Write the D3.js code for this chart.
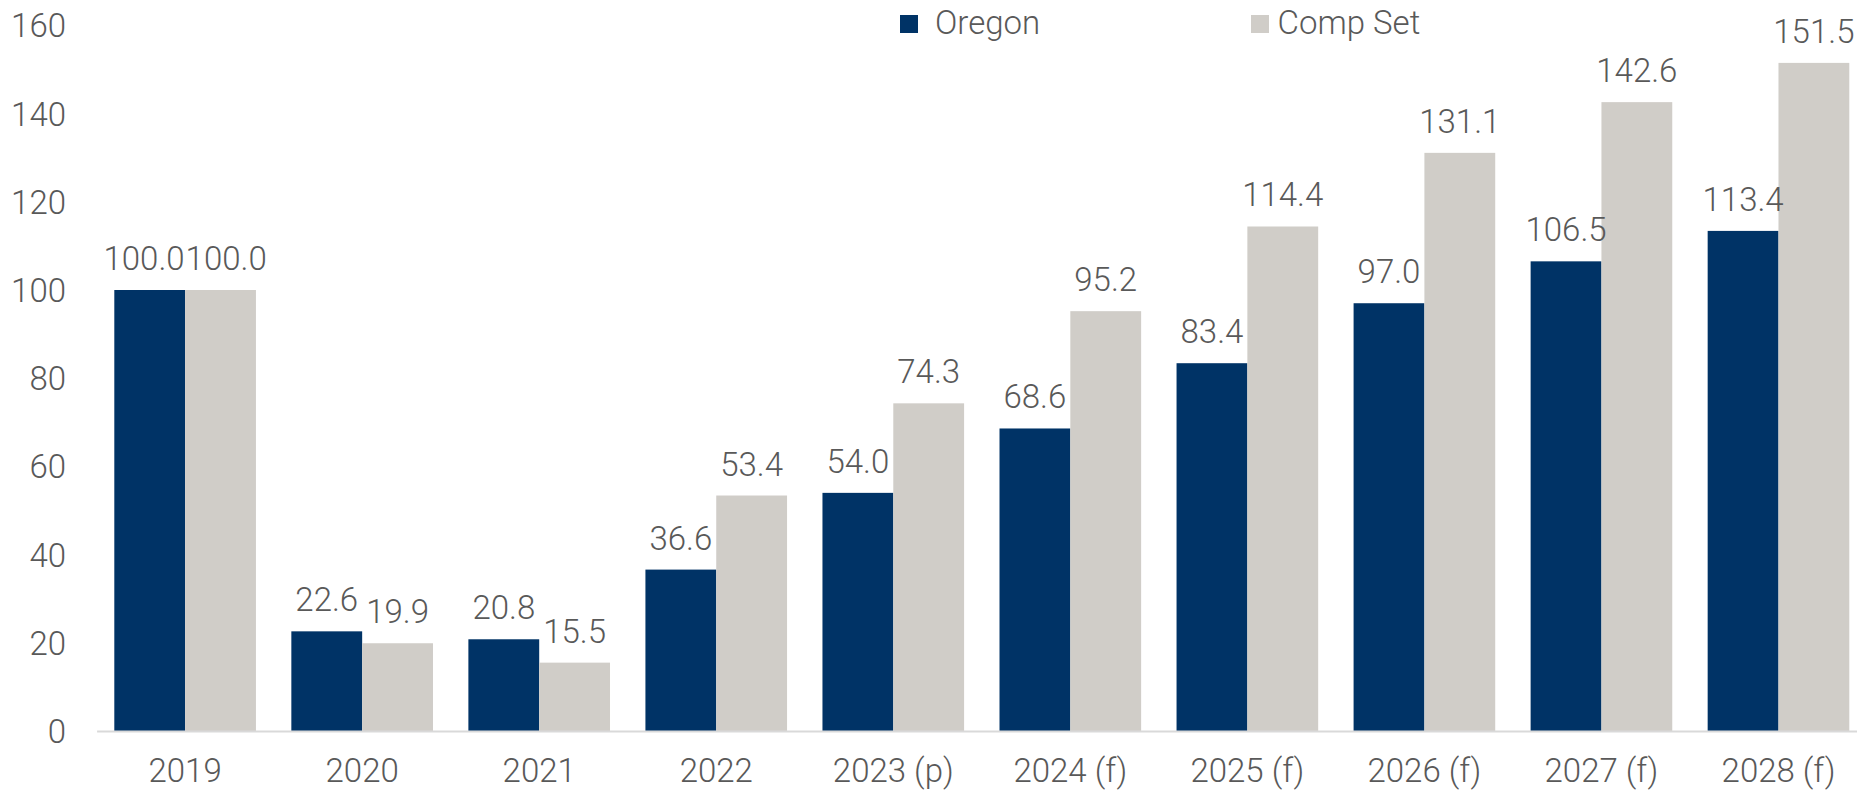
<!DOCTYPE html>
<html>
<head>
<meta charset="utf-8">
<script src="https://cdn.jsdelivr.net/npm/d3@7"></script>
<style>
  html, body { margin: 0; padding: 0; background: #ffffff; }
  svg { display: block; }
  text { font-family: Roboto, "Open Sans", sans-serif; font-weight: 300; fill: #595959; }
</style>
</head>
<body>
<svg id="chart" width="1857" height="791"></svg>
<script>
// Index values by year (2019 = 100)
const categories = ["2019", "2020", "2021", "2022", "2023 (p)", "2024 (f)", "2025 (f)", "2026 (f)", "2027 (f)", "2028 (f)"];
const seriesNames = ["Oregon", "Comp Set"];
const oregonValues = [100.0, 22.6, 20.8, 36.6, 54.0, 68.6, 83.4, 97.0, 106.5, 113.4];
const compSetValues = [100.0, 19.9, 15.5, 53.4, 74.3, 95.2, 114.4, 131.1, 142.6, 151.5];
const yTicks = [0, 20, 40, 60, 80, 100, 120, 140, 160];

const colors = { "Oregon": "#003366", "Comp Set": "#d0cdc8" };
const fontSize = 33;

const svg = d3.select("#chart");

const x0 = 96.6, x1 = 96.6 + 177.04 * categories.length;
const yBase = 731, yTop = 731 - 441 * 1.6;

const x = d3.scaleBand().domain(categories).range([x0, x1]).paddingInner(0.2).paddingOuter(0.1);
const xs = d3.scaleBand().domain(seriesNames).range([0, x.bandwidth()]);
const y = d3.scaleLinear().domain([0, 160]).range([yBase, yTop]);

const rows = categories.map((c, i) => ({
  cat: c,
  vals: [
    { name: "Oregon", v: oregonValues[i] },
    { name: "Comp Set", v: compSetValues[i] }
  ]
}));

// Y axis labels (no line, no ticks)
const yAxis = svg.append("g")
  .attr("transform", "translate(66,0)")
  .call(d3.axisLeft(y).tickValues(yTicks).tickSize(0).tickPadding(0).tickFormat(d3.format("d")));
yAxis.select(".domain").remove();
yAxis.selectAll("text")
  .attr("font-size", fontSize)
  .style("font-family", "Roboto, sans-serif")
  .style("font-weight", 300)
  .attr("fill", "#595959")
  .attr("dy", "0.35em");

// Bars
const groups = svg.append("g").selectAll("g")
  .data(rows).join("g")
  .attr("transform", d => `translate(${x(d.cat)},0)`);

groups.selectAll("rect")
  .data(d => d.vals).join("rect")
  .attr("x", d => xs(d.name))
  .attr("width", xs.bandwidth())
  .attr("y", d => y(d.v))
  .attr("height", d => y(0) - y(d.v))
  .attr("fill", d => colors[d.name]);

// Value labels
groups.selectAll("text.val")
  .data(d => d.vals).join("text")
  .attr("class", "val")
  .attr("x", d => xs(d.name) + xs.bandwidth() / 2)
  .attr("y", d => y(d.v) - 20)
  .attr("text-anchor", "middle")
  .attr("font-size", fontSize)
  .text(d => d.v.toFixed(1));

// Push apart paired labels that collide at the same height
groups.each(function () {
  const labels = d3.select(this).selectAll("text.val").nodes();
  if (labels.length !== 2) return;
  const a = labels[0].getBBox(), b = labels[1].getBBox();
  const vOverlap = a.y < b.y + b.height && b.y < a.y + a.height;
  const hOverlap = (a.x + a.width) - b.x;
  if (vOverlap && hOverlap > -1) {
    const shift = (hOverlap + 1) / 2;
    d3.select(labels[0]).attr("x", +labels[0].getAttribute("x") - shift);
    d3.select(labels[1]).attr("x", +labels[1].getAttribute("x") + shift);
  }
});

// X axis
const xAxis = svg.append("g")
  .attr("transform", `translate(0,${yBase})`)
  .call(d3.axisBottom(x).tickSize(0).tickPadding(0));
xAxis.select(".domain").attr("stroke", "#d9d9d9").attr("stroke-width", 2);
xAxis.selectAll("text")
  .attr("font-size", fontSize)
  .style("font-family", "Roboto, sans-serif")
  .style("font-weight", 300)
  .attr("fill", "#595959")
  .attr("dy", null)
  .attr("y", 51);

// Legend
const legendItems = [
  { name: "Oregon", sx: 900, tx: 935 },
  { name: "Comp Set", sx: 1251, tx: 1277.5 }
];
const legend = svg.append("g");
legend.selectAll("rect").data(legendItems).join("rect")
  .attr("x", d => d.sx).attr("y", 15)
  .attr("width", 18).attr("height", 18)
  .attr("fill", d => colors[d.name]);
legend.selectAll("text").data(legendItems).join("text")
  .attr("x", d => d.tx).attr("y", 34.3)
  .attr("font-size", fontSize)
  .text(d => d.name);
</script>
</body>
</html>
